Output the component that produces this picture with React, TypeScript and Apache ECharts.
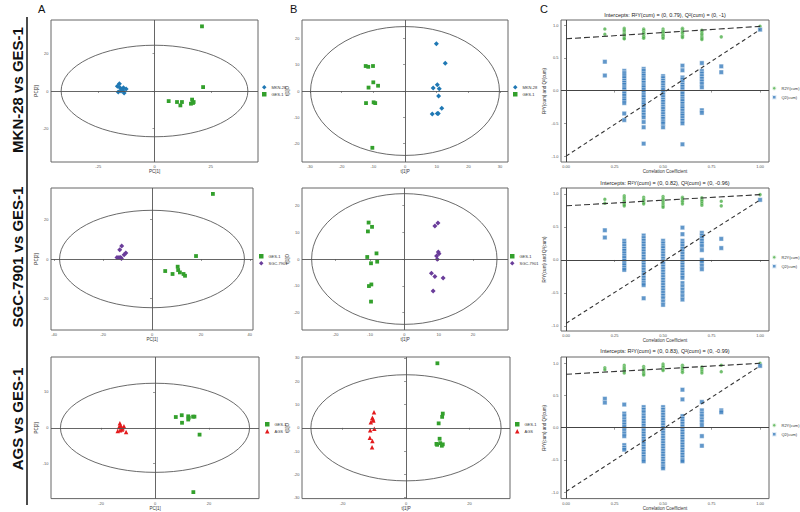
import React, { useEffect, useRef } from 'react';
import * as echarts from 'echarts';

// ---------- data ----------
const rowLabels = ['MKN-28 vs GES-1', 'SGC-7901 vs GES-1', 'AGS vs GES-1'];
const panelLetters = ['A', 'B', 'C'];

// PCA score plots (A)
const pcaA1_MKN28 = [[-15.6, 3.9], [-16.5, 2.5], [-15.3, 1.8], [-14.6, 0.7], [-13.8, 1.8], [-12.6, 1.1], [-16.1, -0.5], [-14.9, 0], [-13.5, -1.1], [-14.1, 0.4]];
const pcaA1_GES1 = [[21.1, 34.6], [21.6, 2.1], [6.3, -5.4], [10, -5.9], [11.5, -7.7], [12.2, -5.9], [16.7, -4.6], [17.1, -6.4], [16.2, -6.8], [17.4, -5.9]];
const pcaA2_GES1 = [[24.9, 33], [18, 1.5], [5.4, -6.1], [10.5, -3.9], [10.7, -5.6], [11.4, -6.8], [8.4, -7.6], [12.9, -7.6], [13.5, -8.5]];
const pcaA2_SGC = [[-12.4, 6.6], [-13.2, 4.7], [-10.7, 3.1], [-11.4, 2.2], [-14.3, 0.8], [-13.5, 0.8], [-12.8, 0.7], [-12.5, 0.3]];
const pcaA3_GES1 = [[7.7, 3.0], [9.9, 3.5], [10, 1.4], [12.3, 3.2], [12.5, 2.8], [12.3, 2.3], [14.1, 3.1], [14.6, 3.1], [16.5, -1.9], [14.2, -17.9]];
const pcaA3_AGS = [[-13.0, 1.3], [-12.8, 0.6], [-13.8, -0.9], [-12.2, -0.5], [-11.5, 0.4], [-10.7, -1.2], [-13.3, 0.2], [-12.5, 0.2], [-12.0, -0.1], [-12.9, -0.7]];

// OPLS-DA score plots (B)
const oplsB1_MKN28 = [[9.9, 18], [12.7, 10.6], [10.2, 2.4], [8.9, 1.1], [10.8, 0.9], [10.6, -1.9], [11.6, -6.6], [8.6, -8.7], [10.2, -8.6], [10.5, -8.6]];
const oplsB1_GES1 = [[-12.4, 9.5], [-11.6, 9.2], [-10.1, 9.5], [-10, 3.3], [-8.5, 2.0], [-11.5, 1.3], [-12.3, -4.6], [-9.9, -4.3], [-9.4, -4.6], [-10.3, -21.6]];
const oplsB2_GES1 = [[-10.4, 13.6], [-9.4, 12], [-10.6, 10.3], [-8.1, 2.1], [-10.8, 0.75], [-7.9, -1], [-9.7, -1.6], [-9.6, -9.5], [-10.3, -10.1], [-9.7, -15.9]];
const oplsB2_SGC = [[9.8, 13.4], [8.9, 12.3], [9.9, 2.6], [10.1, 2], [9.4, 1.1], [9.6, -0.1], [7.9, -5.3], [8.9, -6.5], [11.3, -7.1], [8.4, -11.9]];
const oplsB3_GES1 = [[9.9, 27.7], [11.6, 6.1], [11.4, 4.7], [10.3, 1.9], [10.6, -4.7], [9.6, -6.9], [9.8, -7.3], [10.8, -6.6], [11.6, -7.1], [11.3, -7.7]];
const oplsB3_AGS = [[-10.1, 6.7], [-10.6, 4.3], [-10.4, 3.6], [-10.3, 3.1], [-11.1, 2.4], [-10, -0.4], [-11.3, -1], [-11.4, -4.3], [-10.6, -5.7], [-10.7, -8.3]];

// Hotelling ellipse semi-axes [x, y]
const ellA1 = [41.5, 24.5];
const ellB1 = [29.8, 24.5];
const ellA2 = [37.8, 24.7];
const ellB2 = [27.0, 24.4];
const ellA3 = [35.0, 12.4];
const ellB3 = [30.0, 22.8];

// Permutation tests (C)
const permX = [0.2, 0.3, 0.4, 0.5, 0.6, 0.7, 0.8, 1.0];
const r2yC1 = [
  [0.94, 0.86],
  [0.95, 0.93, 0.91, 0.88, 0.86, 0.85, 0.83, 0.80, 0.79],
  [0.94, 0.92, 0.89, 0.88, 0.86, 0.83, 0.82, 0.80],
  [0.94, 0.91, 0.90, 0.88, 0.85, 0.84, 0.82, 0.80],
  [0.95, 0.93, 0.90, 0.89, 0.87, 0.84, 0.83, 0.81],
  [0.92, 0.90, 0.87, 0.85, 0.82, 0.80, 0.78],
  [0.82],
  [0.98],
];
const q2C1 = [
  [0.44, 0.23],
  [0.30, 0.27, 0.25, 0.22, 0.19, 0.15, 0.12, 0.09, 0.05, 0.02, -0.02, -0.05, -0.08, -0.12, -0.15, -0.19, -0.35, -0.45],
  [0.33, 0.30, 0.26, 0.23, 0.19, 0.16, 0.12, 0.08, 0.05, 0.01, -0.03, -0.07, -0.10, -0.14, -0.18, -0.21, -0.25, -0.29, -0.33, -0.37, -0.41, -0.48, -0.56, -0.81],
  [0.22, 0.19, 0.15, 0.12, 0.08, 0.04, 0.01, -0.03, -0.06, -0.10, -0.14, -0.17, -0.21, -0.25, -0.28, -0.32, -0.36, -0.40, -0.43, -0.47, -0.50, -0.56],
  [0.38, 0.31, 0.20, 0.17, 0.13, 0.09, 0.06, 0.02, -0.02, -0.05, -0.09, -0.13, -0.16, -0.20, -0.24, -0.27, -0.31, -0.35, -0.38, -0.42, -0.46, -0.50, -0.82],
  [0.42, 0.30, 0.26, 0.22, 0.18, 0.14, 0.10, 0.05, -0.30, -0.34],
  [0.37, 0.28],
  [0.93],
];
const r2yC2 = [
  [0.92, 0.86],
  [0.97, 0.94, 0.91, 0.89, 0.86, 0.84, 0.82],
  [0.95, 0.92, 0.90, 0.87, 0.85],
  [0.96, 0.93, 0.91, 0.88, 0.85, 0.82, 0.80],
  [0.95, 0.93, 0.90, 0.88, 0.85],
  [0.94, 0.91, 0.89, 0.86, 0.83],
  [0.89, 0.82],
  [0.99],
];
const q2C2 = [
  [0.45, 0.34],
  [0.29, 0.25, 0.21, 0.17, 0.14, 0.10, 0.06, 0.03, -0.01, -0.05, -0.08, -0.12, -0.15],
  [0.37, 0.33, 0.29, 0.25, 0.21, 0.17, 0.13, 0.09, 0.05, 0.01, -0.03, -0.07, -0.11, -0.15, -0.19, -0.23, -0.27, -0.31, -0.35, -0.38, -0.58],
  [0.29, 0.25, 0.21, 0.18, 0.14, 0.10, 0.06, 0.02, -0.02, -0.06, -0.10, -0.14, -0.18, -0.22, -0.26, -0.30, -0.34, -0.38, -0.42, -0.46, -0.50, -0.54, -0.58, -0.63, -0.68],
  [0.49, 0.39, 0.29, 0.25, 0.21, 0.17, 0.13, 0.09, 0.05, 0.01, -0.03, -0.07, -0.11, -0.15, -0.19, -0.23, -0.27, -0.35, -0.40, -0.45, -0.50, -0.55, -0.60],
  [0.41, 0.37, 0.33, 0.29, 0.25, 0.21, 0.15, 0.00, -0.04, -0.09, -0.14],
  [0.32, 0.18],
  [0.91],
];
const r2yC3 = [
  [0.93, 0.90],
  [0.97, 0.94, 0.92, 0.90, 0.88, 0.85],
  [0.95, 0.92, 0.90, 0.87, 0.84, 0.82],
  [0.99, 0.96, 0.94, 0.91, 0.89],
  [0.97, 0.94, 0.92, 0.89, 0.86],
  [0.94, 0.91, 0.88, 0.85],
  [0.97, 0.87],
  [1.0],
];
const q2C3 = [
  [0.45, 0.39],
  [0.36, 0.22, 0.18, 0.13, 0.09, 0.05, 0.01, -0.04, -0.09, -0.13, -0.27, -0.31, -0.34],
  [0.32, 0.28, 0.24, 0.19, 0.15, 0.11, 0.07, 0.03, -0.01, -0.05, -0.09, -0.13, -0.17, -0.21, -0.25, -0.29, -0.33, -0.37, -0.41, -0.45, -0.49, -0.52],
  [0.32, 0.28, 0.24, 0.20, 0.16, 0.12, 0.08, 0.04, 0.00, -0.04, -0.08, -0.12, -0.16, -0.20, -0.24, -0.28, -0.32, -0.36, -0.40, -0.44, -0.48, -0.52, -0.56, -0.60, -0.63],
  [0.59, 0.44, 0.18, 0.14, 0.10, 0.06, 0.02, -0.02, -0.06, -0.10, -0.14, -0.18, -0.22, -0.26, -0.30, -0.34, -0.38, -0.42, -0.46, -0.50, -0.52],
  [0.40, 0.27, 0.22, 0.18, 0.13, 0.09, 0.04, -0.13, -0.28],
  [0.27, 0.24],
  [0.96],
];
// intercept lines [[x0, y0], [x1, y1]]
const r2yLine1 = [[0, 0.79], [1, 0.98]];
const q2Line1 = [[0, -1], [1, 0.93]];
const r2yLine2 = [[0, 0.82], [1, 0.99]];
const q2Line2 = [[0, -0.96], [1, 0.91]];
const r2yLine3 = [[0, 0.83], [1, 1.0]];
const q2Line3 = [[0, -0.99], [1, 0.96]];
const cTitles = [
  'Intercepts: R²Y(cum) = (0, 0.79), Q²(cum) = (0, -1)',
  'Intercepts: R²Y(cum) = (0, 0.82), Q²(cum) = (0, -0.96)',
  'Intercepts: R²Y(cum) = (0, 0.83), Q²(cum) = (0, -0.99)',
];

// tick values
const ticksA1x = [-25, 0, 25];
const ticksA1y = [-20, 0, 20];
const ticksB1x = [-30, -20, -10, 0, 10, 20, 30];
const ticksB1y = [-20, -10, 0, 10, 20];
const ticksA2x = [-40, -20, 0, 20, 40];
const ticksA2y = [-20, 0, 20];
const ticksB2x = [-20, -10, 0, 10, 20];
const ticksB2y = [-20, -10, 0, 10, 20];
const ticksA3x = [-20, 0, 20];
const ticksA3y = [-10, 0, 10];
const ticksB3x = [-20, 0, 20];
const ticksB3y = [-30, -20, -10, 0, 10, 20, 30];
const ticksCx = [0, 0.25, 0.5, 0.75, 1.0];
const ticksCy = [-1, -0.5, 0, 0.5, 1.0];

// ---------- styles ----------
const GREEN = '#33a02c';
const BLUE = '#1f78b4';
const PURPLE = '#6a3d9a';
const RED = '#e31a1c';
const CGREEN = '#4daf4a';
const CBLUE = '#3a7dbd';
const FONT = '"Liberation Sans", Arial, sans-serif';

const grp = (name: string, data: number[][], color: string, symbol: string, size: number) => ({ name, data, color, symbol, size });

const pcaPanels = [
  { grid: [51, 20, 207, 142], x: [-46, 46], y: [-38, 38], xt: ticksA1x, yt: ticksA1y, ell: ellA1, xn: 'PC[1]', yn: 'PC[2]',
    groups: [grp('MKN-28', pcaA1_MKN28, BLUE, 'diamond', 5), grp('GES-1', pcaA1_GES1, GREEN, 'rect', 3.8)], legend: [262, 85] },
  { grid: [302, 20, 206, 142], x: [-32.5, 32.5], y: [-27, 27], xt: ticksB1x, yt: ticksB1y, ell: ellB1, xn: 't[1]P', yn: 't[1]O',
    groups: [grp('MKN-28', oplsB1_MKN28, BLUE, 'diamond', 5), grp('GES-1', oplsB1_GES1, GREEN, 'rect', 3.8)], legend: [513, 85] },
  { grid: [51, 188, 202, 142], x: [-41.3, 41.3], y: [-36, 36], xt: ticksA2x, yt: ticksA2y, ell: ellA2, xn: 'PC[1]', yn: 'PC[2]',
    groups: [grp('GES-1', pcaA2_GES1, GREEN, 'rect', 3.8), grp('SGC-7901', pcaA2_SGC, PURPLE, 'diamond', 5)], legend: [259, 254] },
  { grid: [302, 188, 206, 142], x: [-29.8, 30.2], y: [-26.5, 26.5], xt: ticksB2x, yt: ticksB2y, ell: ellB2, xn: 't[1]P', yn: 't[1]O',
    groups: [grp('GES-1', oplsB2_GES1, GREEN, 'rect', 3.8), grp('SGC-7901', oplsB2_SGC, PURPLE, 'diamond', 5)], legend: [510, 254] },
  { grid: [51, 357, 208, 142], x: [-38.5, 38.5], y: [-19.7, 19.7], xt: ticksA3x, yt: ticksA3y, ell: ellA3, xn: 'PC[1]', yn: 'PC[2]',
    groups: [grp('GES-1', pcaA3_GES1, GREEN, 'rect', 3.8), grp('AGS', pcaA3_AGS, RED, 'triangle', 4.5)], legend: [265, 422] },
  { grid: [302, 357, 208, 142], x: [-32.8, 32.8], y: [-30.4, 30.4], xt: ticksB3x, yt: ticksB3y, ell: ellB3, xn: 't[1]P', yn: 't[1]O',
    groups: [grp('GES-1', oplsB3_GES1, GREEN, 'rect', 3.8), grp('AGS', oplsB3_AGS, RED, 'triangle', 4.5)], legend: [515, 422] },
];

const permPanels = [
  { grid: [561, 20, 208, 142], y: [-1.09, 1.077], r2y: r2yC1, q2: q2C1, r2yLine: r2yLine1, q2Line: q2Line1, title: cTitles[0], titleY: 14.5, legend: [771, 85] },
  { grid: [561, 188, 208, 143], y: [-1.076, 1.09], r2y: r2yC2, q2: q2C2, r2yLine: r2yLine2, q2Line: q2Line2, title: cTitles[1], titleY: 183, legend: [771, 254] },
  { grid: [561, 357, 208, 143], y: [-1.1, 1.098], r2y: r2yC3, q2: q2C3, r2yLine: r2yLine3, q2Line: q2Line3, title: cTitles[2], titleY: 351, legend: [771, 422] },
];

const toPoints = (cols: number[][]) => {
  const pts: number[][] = [];
  cols.forEach((vals, i) => vals.forEach((v) => pts.push([permX[i], v])));
  return pts;
};

const zeroLines = (color: string, width: number) => ({
  silent: true,
  symbol: ['none', 'none'],
  label: { show: false },
  lineStyle: { color, width, type: 'solid' },
  emphasis: { disabled: true },
  data: [{ xAxis: 0 }, { yAxis: 0 }],
});

function makeAxis(gi: number, min: number, max: number, ticks: number[], name: string, gap: number, fmt?: (v: number) => string) {
  return {
    gridIndex: gi,
    type: 'value',
    min,
    max,
    name,
    nameLocation: 'middle',
    nameGap: gap,
    nameTextStyle: { fontSize: 4.5, color: '#333', fontFamily: FONT },
    axisLine: { show: false },
    splitLine: { show: false },
    axisTick: { show: true, length: 2, lineStyle: { color: '#555', width: 0.6 }, customValues: ticks },
    axisLabel: { show: true, fontSize: 4, color: '#555', margin: 2.5, fontFamily: FONT, customValues: ticks, formatter: fmt ? fmt : (v: number) => String(v) },
  };
}

function buildOption() {
  const grids: any[] = [];
  const xAxes: any[] = [];
  const yAxes: any[] = [];
  const series: any[] = [];
  const legends: any[] = [];
  const graphics: any[] = [];

  const gridStyle = (g: number[]) => ({
    left: g[0], top: g[1], width: g[2], height: g[3], show: true,
    borderColor: '#666', borderWidth: 1, backgroundColor: 'transparent', containLabel: false,
  });
  const legendStyle = (pos: number[], data: string[]) => ({
    left: pos[0], top: pos[1], orient: 'vertical', itemWidth: 4.5, itemHeight: 4.5, itemGap: 2.5,
    textStyle: { fontSize: 4, color: '#333', fontFamily: FONT },
    selectedMode: false, padding: 0, data,
  });

  pcaPanels.forEach((p) => {
    const gi = grids.length;
    grids.push(gridStyle(p.grid));
    xAxes.push(makeAxis(gi, p.x[0], p.x[1], p.xt, p.xn, 7));
    yAxes.push(makeAxis(gi, p.y[0], p.y[1], p.yt, p.yn, 9));
    const ell = p.ell;
    series.push({
      type: 'custom',
      name: 'ellipse',
      xAxisIndex: gi,
      yAxisIndex: gi,
      silent: true,
      clip: false,
      data: [[0, 0]],
      z: 2,
      renderItem: (_params: any, api: any) => {
        const c = api.coord([0, 0]);
        const e = api.coord([ell[0], ell[1]]);
        const a = Math.abs(e[0] - c[0]);
        const b = Math.abs(c[1] - e[1]);
        const d = `M ${c[0] - a} ${c[1]} A ${a} ${b} 0 1 0 ${c[0] + a} ${c[1]} A ${a} ${b} 0 1 0 ${c[0] - a} ${c[1]} Z`;
        return { type: 'path', shape: { pathData: d }, style: { fill: 'none', stroke: '#444', lineWidth: 0.8 } };
      },
      markLine: zeroLines('#555', 0.9),
    });
    p.groups.forEach((g) => {
      series.push({
        type: 'scatter',
        name: g.name,
        xAxisIndex: gi,
        yAxisIndex: gi,
        data: g.data,
        symbol: g.symbol,
        symbolSize: g.size,
        itemStyle: { color: g.color, opacity: 1 },
        z: 4,
      });
    });
    legends.push(legendStyle(p.legend, p.groups.map((g) => g.name)));
  });

  permPanels.forEach((p) => {
    const gi = grids.length;
    grids.push(gridStyle(p.grid));
    xAxes.push(makeAxis(gi, -0.026, 1.046, ticksCx, 'Correlation Coefficient', 7, (v: number) => v.toFixed(2)));
    yAxes.push(makeAxis(gi, p.y[0], p.y[1], ticksCy, 'R²Y(cum) and Q²(cum)', 14, (v: number) => v.toFixed(1)));
    series.push({
      type: 'scatter', name: 'R2Y(cum)', xAxisIndex: gi, yAxisIndex: gi,
      data: toPoints(p.r2y), symbol: 'circle', symbolSize: 3.6,
      itemStyle: { color: CGREEN, borderColor: '#fff', borderWidth: 0.3 }, z: 3,
      markLine: zeroLines('#444', 1),
    });
    series.push({
      type: 'scatter', name: 'Q2(cum)', xAxisIndex: gi, yAxisIndex: gi,
      data: toPoints(p.q2), symbol: 'rect', symbolSize: 4.4,
      itemStyle: { color: CBLUE, borderColor: '#fff', borderWidth: 0.5 }, z: 3,
    });
    series.push({
      type: 'line', name: 'r2yFit', xAxisIndex: gi, yAxisIndex: gi, data: p.r2yLine,
      symbol: 'none', silent: true, lineStyle: { color: '#333', width: 1.1, type: [6, 3] }, z: 5,
    });
    series.push({
      type: 'line', name: 'q2Fit', xAxisIndex: gi, yAxisIndex: gi, data: p.q2Line,
      symbol: 'none', silent: true, lineStyle: { color: '#333', width: 1.1, type: [4, 3] }, z: 5,
    });
    legends.push(legendStyle(p.legend, ['R2Y(cum)', 'Q2(cum)']));
    graphics.push({
      type: 'text', x: p.grid[0] + p.grid[2] / 2, y: p.titleY, silent: true,
      style: { text: p.title, fontSize: 5.5, fill: '#222', fontFamily: FONT, align: 'center', verticalAlign: 'middle' },
    });
  });

  // row labels and divider
  const rowCenters = [90, 257, 419];
  rowLabels.forEach((t, i) => {
    graphics.push({
      type: 'text', x: 17, y: rowCenters[i], rotation: Math.PI / 2, silent: true,
      style: { text: t, fontSize: 15, fontWeight: 'bold', fill: '#111', fontFamily: FONT, align: 'center', verticalAlign: 'middle' },
    });
  });
  graphics.push({ type: 'line', silent: true, shape: { x1: 27, y1: 17, x2: 27, y2: 505 }, style: { stroke: '#111', lineWidth: 1.5 } });
  const letterX = [38, 290, 540];
  panelLetters.forEach((l, i) => {
    graphics.push({
      type: 'text', x: letterX[i], y: 3, silent: true,
      style: { text: l, fontSize: 11, fill: '#111', fontFamily: FONT, align: 'left', verticalAlign: 'top' },
    });
  });

  return {
    animation: false,
    backgroundColor: '#fff',
    textStyle: { fontFamily: FONT },
    grid: grids,
    xAxis: xAxes,
    yAxis: yAxes,
    legend: legends,
    series,
    graphic: graphics,
  };
}

export default function App() {
  const ref = useRef<HTMLDivElement>(null);
  useEffect(() => {
    if (!ref.current) return;
    const chart = echarts.init(ref.current, undefined, { renderer: 'svg' });
    chart.setOption(buildOption() as any);
    return () => chart.dispose();
  }, []);
  return <div ref={ref} style={{ position: 'absolute', left: 0, top: 0, width: 800, height: 512 }} />;
}
